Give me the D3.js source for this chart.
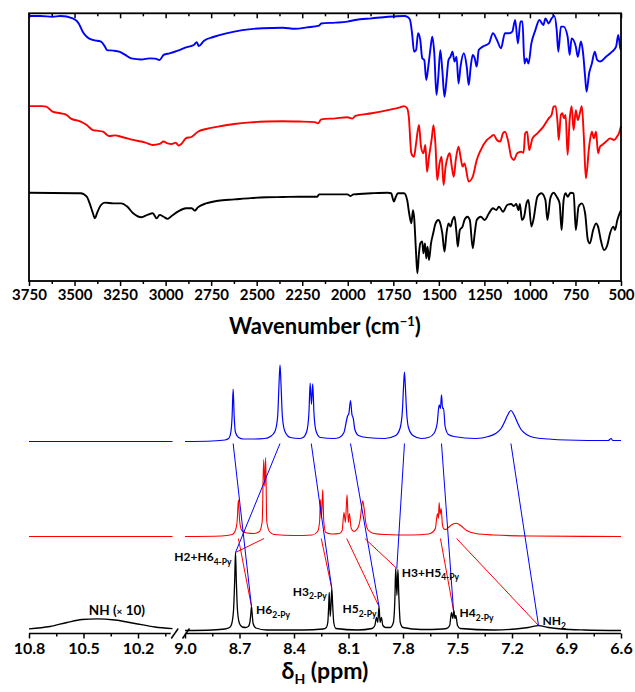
<!DOCTYPE html>
<html><head><meta charset="utf-8">
<script src="https://cdnjs.cloudflare.com/ajax/libs/d3/7.8.5/d3.min.js"></script>
<style>body{margin:0;background:#fff}</style>
</head><body><svg id="c" width="635" height="692"></svg>
<script>
// ---------------- IR data: [wavenumber (cm-1), transmittance (a.u., stacked)] ----------------
const irTicks = [3750,3500,3250,3000,2750,2500,2250,2000,1750,1500,1250,1000,750,500];
const irMinorTicks = [3625,3375,3125,2875,2625,2375,2125,1875,1625,1375,1125,875,625];
const irBlue = [[3750,99.4],[3688,99.4],[3621,99.1],[3577,99.4],[3510,98.5],[3477,96.6],[3455,93.5],[3433,91.6],[3399,90.4],[3355,89.8],[3333,87.9],[3322,86.6],[3288,86.4],[3255,86],[3222,84.8],[3189,83.5],[3133,83.1],[3089,83.5],[3056,83.4],[3033,82.9],[3011,84.8],[2978,85.4],[2933,86.4],[2889,87.6],[2845,88.5],[2829,89.6],[2818,88.1],[2789,90.1],[2734,91.6],[2667,92.9],[2579,94.1],[2468,94.8],[2357,95],[2290,94.6],[2224,95.1],[2157,95.8],[2146,96.6],[2068,96.9],[2002,97.3],[1958,97.9],[1869,98.5],[1780,99.1],[1691,99.4],[1669,98.9],[1658,97.9],[1647,92.9],[1636,86],[1625,86.6],[1614,92.9],[1602,90.4],[1591,83.5],[1580,82.9],[1569,75.4],[1558,80.4],[1547,86.6],[1536,91.6],[1525,85.4],[1513,69.8],[1503,76.6],[1492,86.6],[1481,79.1],[1469,69.1],[1458,75.4],[1447,82.9],[1436,84.1],[1425,86],[1414,82.3],[1403,84.1],[1392,74.1],[1381,80.4],[1363,85.4],[1347,80.4],[1336,73.5],[1325,80.4],[1314,84.8],[1303,83.5],[1292,80.4],[1281,86.6],[1259,87.9],[1225,89.1],[1203,92.9],[1181,90.4],[1159,87.3],[1137,92.9],[1114,92.9],[1097,93.5],[1081,97.9],[1066,89.1],[1052,97.3],[1041,97.3],[1030,81.6],[1019,83.5],[1008,81.6],[992,89.1],[970,94.1],[948,97.9],[926,96],[915,98.5],[897,96.6],[881,98.5],[866,99.4],[853,94.1],[844,86],[830,95.4],[815,95.4],[793,91.6],[782,84.8],[771,91],[748,87.9],[737,84.1],[720,89.8],[708,85.4],[697,76.6],[689,71],[675,77.9],[660,81.6],[644,86],[631,82.9],[615,82.3],[582,84.1],[549,86],[527,87.9],[515,92.3],[504,87.3],[500,86.6]];
const irRed = [[3750,65.6],[3677,65.6],[3655,65.4],[3621,63.5],[3577,62.9],[3544,62.3],[3522,61],[3466,59.8],[3433,58.5],[3399,56.6],[3377,56.4],[3344,56],[3311,54.4],[3277,54.6],[3244,54.1],[3178,52.9],[3111,51.9],[3071,51],[3033,51.4],[3011,52.3],[2989,51.6],[2967,51.4],[2945,51.9],[2929,50.8],[2911,51.6],[2889,53.5],[2856,54.1],[2823,56],[2778,57],[2712,57.9],[2623,58.9],[2534,59.5],[2446,59.8],[2357,59.9],[2268,59.8],[2180,59.6],[2164,59.1],[2146,60.6],[2068,61],[2002,61.4],[1975,60.9],[1958,61.9],[1869,62.9],[1780,64.1],[1714,65.1],[1691,65.6],[1674,64.8],[1665,61.6],[1651,47.9],[1636,46.6],[1625,51.6],[1609,58.5],[1598,50.4],[1585,47.9],[1574,51],[1565,41],[1554,46.6],[1540,52.9],[1529,58.4],[1518,50.4],[1509,37.9],[1496,44.1],[1485,46.6],[1474,36],[1463,42.9],[1451,46.6],[1440,47.9],[1429,42.9],[1418,39.1],[1407,45.4],[1392,50.4],[1381,46.6],[1370,42.9],[1359,44.1],[1336,37.3],[1314,39.1],[1292,45.4],[1270,49.1],[1236,52.9],[1214,54.1],[1199,54.8],[1181,52.9],[1163,52.3],[1148,55.4],[1137,56],[1119,52.3],[1103,46.6],[1088,45.4],[1070,47.9],[1048,48.5],[1035,48.1],[1026,55.4],[1015,56],[1004,49.1],[986,53.5],[959,55.4],[926,57.9],[897,61],[881,62.3],[870,65.4],[859,65.6],[848,59.1],[842,52.9],[830,62.3],[822,62.9],[813,61],[804,62.3],[793,47.3],[782,60.4],[771,65.6],[760,56.6],[748,64.1],[737,60.4],[726,62.9],[715,65.6],[704,54.1],[693,38.5],[675,50.4],[660,56],[649,53.5],[637,56],[626,47.9],[615,50.4],[604,51],[582,52.3],[560,53.5],[538,52.9],[522,54.1],[511,55.4],[500,58.1]];
const irBlack = [[3750,33.1],[3466,32.9],[3433,31.6],[3417,29.1],[3399,25.4],[3388,23.5],[3377,25.4],[3355,28.5],[3333,29.4],[3288,29.1],[3244,29.1],[3211,27.9],[3178,25.4],[3133,23.9],[3100,24.8],[3071,25.4],[3049,23.5],[3033,24.8],[3011,24.1],[2989,23.3],[2967,24.4],[2933,26],[2889,27.3],[2856,27.3],[2840,26.4],[2823,27.6],[2778,29.1],[2712,30.1],[2623,30.6],[2534,31.1],[2446,31.4],[2357,31.5],[2268,31.6],[2168,31.6],[2157,32.5],[2068,32.5],[2002,32.5],[1984,31.9],[1969,32.5],[1869,32.9],[1780,33.1],[1762,32.9],[1747,29.8],[1736,31.6],[1725,32.9],[1691,32.9],[1674,30.4],[1663,25.4],[1651,21.6],[1642,26.6],[1636,24.1],[1625,10.4],[1618,2.9],[1609,10.4],[1602,14.1],[1591,14.8],[1585,10.4],[1576,14.1],[1569,8.5],[1562,12.9],[1554,7.9],[1543,14.1],[1531,17.9],[1518,21.6],[1503,22.9],[1492,21.6],[1481,17.9],[1469,11],[1458,17.9],[1447,21.6],[1436,20.4],[1425,22.9],[1414,24.1],[1403,17.9],[1396,12.9],[1385,19.1],[1370,20.4],[1359,22.9],[1343,24.1],[1330,22.9],[1314,12.3],[1303,17.9],[1292,22.9],[1270,24.1],[1248,22.9],[1225,25.4],[1203,27.3],[1185,26.6],[1170,27.9],[1148,26],[1125,28.5],[1103,28.9],[1088,28.1],[1075,28.9],[1063,26.6],[1055,28.9],[1044,22.9],[1032,24.1],[1019,29.1],[1008,30.4],[992,20.4],[981,22.9],[959,31.6],[937,32.9],[915,30.4],[904,22.9],[888,31],[870,33.1],[853,31.6],[837,29.1],[826,19.1],[815,30.4],[804,32.9],[793,31.6],[777,33.1],[760,32.9],[748,19.1],[733,27.9],[715,29.1],[697,25.4],[682,15.4],[671,14.1],[653,19.1],[637,21.6],[626,20.4],[611,15.4],[593,11.6],[575,13.5],[560,17.9],[542,20.4],[533,19.1],[520,22.9],[500,26.6]];

// ---------------- 1H NMR data: [ppm, intensity (a.u.)] ----------------
const nmrTicksLeft = [10.8,10.5,10.2];
const nmrMinorLeft = [10.65,10.35,10.05];
const nmrTicksRight = [9.0,8.7,8.4,8.1,7.8,7.5,7.2,6.9,6.6];
const nmrMinorRight = [8.85,8.55,8.25,7.95,7.65,7.35,7.05,6.75];
const nmrBlueLeft = [[10.8,0],[10.01,0]];
const nmrRedLeft = [[10.8,0],[10.01,0]];
const nmrBlackLeft = [[10.8,1.7],[10.684,4],[10.591,8],[10.508,11],[10.426,11.7],[10.327,10.5],[10.217,7],[10.107,3.5],[10.01,1.8]];
const nmrBlue = [[9.0,0],[8.85,0.5],[8.78,1.5],[8.76,3],[8.748,9],[8.741,24],[8.735,52.4],[8.729,24],[8.722,9],[8.705,4],[8.68,2.5],[8.62,2.5],[8.56,3],[8.53,5],[8.505,10],[8.49,25],[8.483,55],[8.477,76.7],[8.471,55],[8.464,25],[8.45,10],[8.42,4],[8.37,3],[8.35,4],[8.33,10],[8.318,28],[8.311,58.4],[8.304,37],[8.297,57.7],[8.29,28],[8.278,10],[8.255,4],[8.18,3],[8.15,4],[8.125,9],[8.112,20],[8.106,25],[8.098,28],[8.089,41],[8.081,27],[8.074,23.4],[8.065,12],[8.045,6],[8.0,4],[7.9,3],[7.84,6],[7.815,14],[7.803,32],[7.797,55],[7.792,69.4],[7.787,55],[7.781,32],[7.77,14],[7.745,6],[7.7,3],[7.66,4],[7.63,8],[7.612,18],[7.601,36.7],[7.594,33],[7.588,46.7],[7.582,33],[7.577,33.4],[7.568,15],[7.55,7],[7.52,5],[7.4,3],[7.33,5],[7.29,8],[7.26,13],[7.24,20],[7.225,26],[7.206,31],[7.187,26],[7.17,19],[7.15,12],[7.12,7],[7.08,4],[7.0,2.5],[6.9,1.5],[6.67,1],[6.655,3],[6.645,1],[6.6,1]];
const nmrRed = [[9.0,0],[8.8,0.5],[8.74,2],[8.725,5],[8.713,15],[8.706,36.6],[8.699,15],[8.687,6],[8.66,3.5],[8.62,3],[8.59,5],[8.575,15],[8.567,77],[8.561,50],[8.556,79],[8.55,15],[8.535,5],[8.51,2],[8.4,1],[8.3,1.5],[8.27,5],[8.259,15],[8.255,37],[8.249,18],[8.242,47],[8.236,15],[8.225,4],[8.19,2.5],[8.15,3],[8.135,6],[8.125,24],[8.117,14],[8.108,42],[8.101,14],[8.095,23],[8.085,8],[8.07,5],[8.06,6],[8.045,10],[8.035,18],[8.03,26],[8.022,35.6],[8.014,28],[8.005,14],[7.99,6],[7.96,3],[7.9,2],[7.75,1.5],[7.66,2.5],[7.64,4],[7.622,8],[7.61,23],[7.605,18],[7.601,34],[7.596,22],[7.59,28],[7.583,12],[7.575,7.5],[7.565,7],[7.55,9],[7.53,12],[7.505,13.3],[7.48,10.5],[7.45,6],[7.4,3],[7.3,1.5],[7.1,0.5],[6.6,0]];
const nmrBlack = [[9.0,0],[8.85,0.5],[8.78,1.5],[8.755,3],[8.744,6],[8.733,20],[8.7265,50],[8.722,78],[8.7175,50],[8.711,20],[8.7,7],[8.685,3.5],[8.665,3],[8.652,4],[8.643,8],[8.638,16],[8.634,24],[8.63,16],[8.625,7],[8.61,2.5],[8.55,0.5],[8.35,0.5],[8.24,1.5],[8.222,3],[8.214,8],[8.209,25],[8.206,38],[8.2005,14],[8.195,30],[8.192,42],[8.187,25],[8.181,8],[8.17,2],[8.05,0.5],[7.97,2],[7.955,5],[7.946,13],[7.939,8],[7.932,24],[7.926,8],[7.919,13],[7.911,5],[7.895,3],[7.87,3],[7.853,8],[7.845,30],[7.84,62],[7.8335,35],[7.828,61],[7.823,35],[7.815,8],[7.8,3],[7.7,1],[7.58,1.5],[7.56,2],[7.543,5],[7.533,18],[7.526,12],[7.52,20],[7.514,12],[7.509,15],[7.5,5],[7.485,2],[7.3,0.5],[7.18,1.5],[7.11,3],[7.054,4.8],[7.0,3],[6.93,1.5],[6.8,0.5],[6.6,0]];

// assignments of the black spectrum and the correlation lines
const peakMain = ["H2+H6","H6","H3","H5","H3+H5","H4","NH"];
const peakSub  = ["4-Py","2-Py","2-Py","2-Py","4-Py","2-Py","2"];
const peakPpm  = [8.722, 8.634, 8.192, 7.932, 7.834, 7.522, 7.054];
const peakInt  = [78, 24, 42, 24, 62, 20, 5];
const blueFrom = [8.477, 8.735, 8.305, 8.089, 7.792, 7.588, 7.206];
const redFrom  = [8.565, 8.706, 8.25, 8.11, 8.01, 7.594, 7.505];
const nhPpm = 10.426, nhInt = 11.7;

// ---------------- drawing ----------------
const FONT = 'Lato, "Open Sans", sans-serif';
const svg = d3.select('#c');

// IR panel
const L = 29, R = 621;
const xIR = d3.scaleLinear().domain([3750,500]).range([L,R]);
const yIR = d3.scaleLinear().domain([0,100.4]).range([281,13.3]);
const irLine = d3.line().x(d=>xIR(d[0])).y(d=>yIR(d[1])).curve(d3.curveMonotoneX);
[[irBlack,'#000000'],[irRed,'#ff0000'],[irBlue,'#0000ff']].forEach(([d,c])=>{
  svg.append('path').datum(d).attr('d',irLine).attr('fill','none')
    .attr('stroke',c).attr('stroke-width',1.9).attr('stroke-linejoin','round');
});
function styleAxis(g, sw){ g.select('.domain').remove(); g.selectAll('line').attr('stroke','#000').attr('stroke-width',sw); }
let g = svg.append('g').attr('transform','translate(0,281)')
  .call(d3.axisBottom(xIR).tickValues(irTicks).tickSize(5).tickFormat(d=>d));
styleAxis(g,1.5);
g.attr('font-family',FONT).attr('font-size',15).attr('font-weight',700);
g.selectAll('text').attr('y',18.5).attr('dy',null).attr('fill','#000');
g = svg.append('g').attr('transform','translate(0,281)')
  .call(d3.axisBottom(xIR).tickValues(irMinorTicks).tickSize(3).tickFormat(''));
styleAxis(g,1.5);
g = svg.append('g').attr('transform','translate(0,13.3)')
  .call(d3.axisTop(xIR).tickValues(irTicks).tickSize(-5).tickFormat(''));
styleAxis(g,1.5);
g = svg.append('g').attr('transform','translate(0,13.3)')
  .call(d3.axisTop(xIR).tickValues(irMinorTicks).tickSize(-3).tickFormat(''));
styleAxis(g,1.5);
svg.append('rect').attr('x',L).attr('y',13.3).attr('width',R-L).attr('height',281-13.3)
  .attr('fill','none').attr('stroke','#000').attr('stroke-width',1.8);
const irTitle = svg.append('text').attr('x',(L+R)/2).attr('y',334).attr('text-anchor','middle')
  .attr('font-family',FONT).attr('font-size',22).attr('font-weight',700);
irTitle.append('tspan').text('Wavenumber (cm');
irTitle.append('tspan').attr('font-size',13).attr('dy',-8).text('\u22121');
irTitle.append('tspan').attr('dy',8).text(')');

// NMR panel
const AX = 633.5;
const xL = d3.scaleLinear().domain([10.8,10.0]).range([L, L+0.8*181.7]);
const xR = d3.scaleLinear().domain([9.0,6.6]).range([185,R]);
const yN = d3.scaleLinear().domain([0,290]).range([630.5,340.5]);
const offsets = {black:0, red:94, blue:189};
function nmrLine(xs, off){ return d3.line().x(d=>xs(d[0])).y(d=>yN(d[1]+off)).curve(d3.curveMonotoneX); }
const spectra = [
  [nmrBlueLeft, nmrBlue, offsets.blue, '#0000ff', 1.2],
  [nmrRedLeft, nmrRed, offsets.red, '#ff0000', 1.1],
  [nmrBlackLeft, nmrBlack, offsets.black, '#000000', 1.3]
];
spectra.forEach(([left,right,off,c,w])=>{
  svg.append('path').datum(left).attr('d',nmrLine(xL,off)).attr('fill','none').attr('stroke',c).attr('stroke-width',w);
  svg.append('path').datum(right).attr('d',nmrLine(xR,off)).attr('fill','none').attr('stroke',c).attr('stroke-width',w);
});
// correlation lines
peakPpm.forEach((p,i)=>{
  svg.append('line').attr('x1',xR(redFrom[i])).attr('y1',yN(offsets.red-2))
    .attr('x2',xR(p)).attr('y2',yN(peakInt[i])).attr('stroke','#ff0000').attr('stroke-width',1);
  svg.append('line').attr('x1',xR(blueFrom[i])).attr('y1',yN(offsets.blue-2))
    .attr('x2',xR(p)).attr('y2',yN(peakInt[i])).attr('stroke','#0000ff').attr('stroke-width',1);
});
// axes
function nmrAxis(xs, major, minor, domainEnd){
  let a = svg.append('g').attr('transform',`translate(0,${AX})`)
    .call(d3.axisBottom(xs).tickValues(major).tickSize(5).tickFormat(d3.format('.1f')));
  styleAxis(a,1.5);
  a.attr('font-family',FONT).attr('font-size',16).attr('font-weight',700);
  a.selectAll('text').attr('y',20.5).attr('dy',null).attr('fill','#000');
  let b = svg.append('g').attr('transform',`translate(0,${AX})`)
    .call(d3.axisBottom(xs).tickValues(minor).tickSize(3).tickFormat(''));
  styleAxis(b,1.5);
  svg.append('line').attr('x1',xs(xs.domain()[0])).attr('x2',xs(domainEnd)).attr('y1',AX).attr('y2',AX)
    .attr('stroke','#000').attr('stroke-width',1.6);
}
nmrAxis(xL, nmrTicksLeft, nmrMinorLeft, 10.02);
nmrAxis(xR, nmrTicksRight, nmrMinorRight, 6.6);
// axis break marks
[xL(10.02)+4, xR(9.0)+1].forEach(cx=>{
  svg.append('line').attr('x1',cx-3.5).attr('y1',AX+5).attr('x2',cx+3.5).attr('y2',AX-5)
    .attr('stroke','#000').attr('stroke-width',1.5);
});
// peak labels
const lab = {anchor:['end','start','end','end','start','start','start'],
             dx:[-4,4.5,-5,-2.5,5,6,4], dy:[8.5,7.5,7,6.5,8,6.5,-0.5]};
peakPpm.forEach((p,i)=>{
  const t = svg.append('text').attr('x',xR(p)+lab.dx[i]).attr('y',yN(peakInt[i])+lab.dy[i])
    .attr('text-anchor',lab.anchor[i]).attr('font-family',FONT).attr('font-weight',700).attr('font-size',12);
  t.append('tspan').text(peakMain[i]);
  t.append('tspan').attr('font-size',8.5).attr('dy',3.5).text(peakSub[i]);
});
const nh = svg.append('text').attr('x',xL(nhPpm)+20).attr('y',yN(nhInt)-3.5).attr('text-anchor','middle')
  .attr('font-family',FONT).attr('font-weight',700).attr('font-size',13.5);
nh.append('tspan').text('NH (');
nh.append('tspan').attr('font-size',10).text('\u00d7');
nh.append('tspan').text(' 10)');
const nt = svg.append('text').attr('x',(L+R)/2).attr('y',679).attr('text-anchor','middle')
  .attr('font-family',FONT).attr('font-weight',700).attr('font-size',23);
nt.append('tspan').text('\u03b4');
nt.append('tspan').attr('font-size',14).attr('dy',5).text('H');
nt.append('tspan').attr('dy',-5).text(' (ppm)');
</script></body></html>
